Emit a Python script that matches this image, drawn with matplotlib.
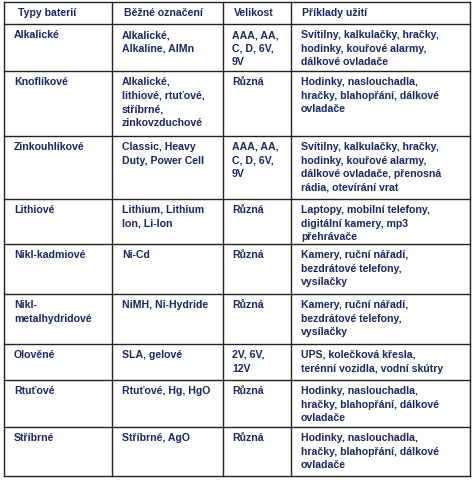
import matplotlib
matplotlib.use("Agg")
import matplotlib.pyplot as plt

headers = ["Typy baterií", "Běžné označení", "Velikost", "Příklady užití"]
types = ["Alkalické", "Knoflíkové", "Zinkouhlíkové", "Lithiové", "Nikl-kadmiové",
         "Nikl-\nmetalhydridové", "Olověné", "Rtuťové", "Stříbrné"]
names = ["Alkalické,\nAlkaline, AlMn", "Alkalické,\nlithiové, rtuťové,\nstříbrné,\nzinkovzduchové",
         "Classic, Heavy\nDuty, Power Cell", "Lithium, Lithium\nIon, Li-Ion", "Ni-Cd",
         "NiMH, Ni-Hydride", "SLA, gelové", "Rtuťové, Hg, HgO", "Stříbrné, AgO"]
sizes = ["AAA, AA,\nC, D, 6V,\n9V", "Různá", "AAA, AA,\nC, D, 6V,\n9V", "Různá", "Různá",
         "Různá", "2V, 6V,\n12V", "Různá", "Různá"]
uses = ["Svítilny, kalkulačky, hračky,\nhodinky, kouřové alarmy,\ndálkové ovladače",
        "Hodinky, naslouchadla,\nhračky, blahopřání, dálkové\novladače",
        "Svítilny, kalkulačky, hračky,\nhodinky, kouřové alarmy,\ndálkové ovladače, přenosná\nrádia, otevírání vrat",
        "Laptopy, mobilní telefony,\ndigitální kamery, mp3\npřehrávače",
        "Kamery, ruční nářadí,\nbezdrátové telefony,\nvysílačky",
        "Kamery, ruční nářadí,\nbezdrátové telefony,\nvysílačky",
        "UPS, kolečková křesla,\nterénní vozidla, vodní skútry",
        "Hodinky, naslouchadla,\nhračky, blahopřání, dálkové\novladače",
        "Hodinky, naslouchadla,\nhračky, blahopřání, dálkové\novladače"]

W, H = 474, 481
fig = plt.figure(figsize=(W/100, H/100), dpi=100)
ax = fig.add_axes([0, 0, 1, 1])
ax.set_xlim(0, W); ax.set_ylim(H, 0); ax.axis("off")

xs = [4, 112, 223, 291, 470]
ys = [3, 25, 72, 137, 200, 245, 295, 345, 381, 428, 477]
col = "#1c2660"
for x in xs:
    ax.plot([x, x], [ys[0], ys[-1]], color="#222222", lw=1.0)
for y in ys:
    ax.plot([xs[0], xs[-1]], [y, y], color="#222222", lw=1.0)

fs = 7.6
ls = 1.45
fam = ["Liberation Sans", "DejaVu Sans"]
tx = [14, 122, 232, 301]
hx = [18, 124, 234, 302]
for x, h in zip(hx, headers):
    ax.text(x, 8, h, fontsize=fs, color=col, va="top", fontweight="bold",
            family=fam, linespacing=ls)
for i, cells in enumerate(zip(types, names, sizes, uses)):
    for x, t in zip(tx, cells):
        ax.text(x, ys[i+1] + 5, t, fontsize=fs, color=col, va="top",
                fontweight="bold", family=fam, linespacing=ls)

fig.savefig("out.png", dpi=100)
